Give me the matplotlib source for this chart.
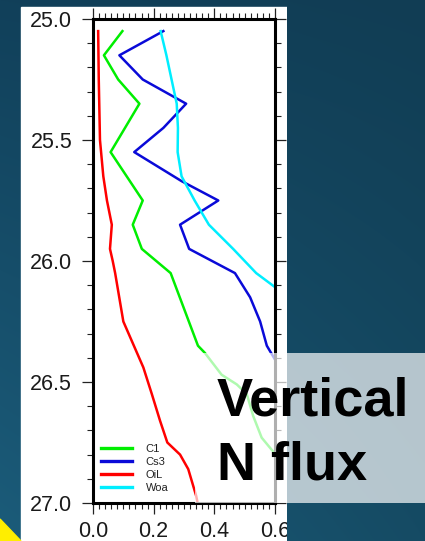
import numpy as np
import matplotlib
matplotlib.use("Agg")
import matplotlib.pyplot as plt
from matplotlib.patches import Rectangle, Polygon
from matplotlib.ticker import MultipleLocator

# density levels / flux values
c1_sig = [25.05, 25.15, 25.25, 25.35, 25.55, 25.65, 25.75, 25.85, 25.95, 26.05,
          26.35, 26.38, 26.47, 26.51, 26.55, 26.64, 26.73, 26.78, 26.85, 26.95]
c1_flux = [0.097, 0.036, 0.083, 0.153, 0.058, 0.111, 0.164, 0.131, 0.161, 0.256,
           0.346, 0.369, 0.424, 0.474, 0.507, 0.528, 0.556, 0.589, 0.64, 0.72]

cs3_sig = [25.05, 25.15, 25.25, 25.35, 25.45, 25.55, 25.67, 25.75, 25.85, 25.95,
           26.05, 26.15, 26.25, 26.35, 26.45, 26.55]
cs3_flux = [0.232, 0.087, 0.164, 0.307, 0.232, 0.136, 0.292, 0.413, 0.287, 0.317,
            0.468, 0.518, 0.551, 0.573, 0.62, 0.66]

oil_sig = [25.05, 25.25, 25.5, 25.65, 25.75, 25.85, 25.95, 26.0, 26.05, 26.25,
           26.44, 26.55, 26.66, 26.75, 26.8, 26.86, 26.97, 27.0]
oil_flux = [0.017, 0.019, 0.023, 0.034, 0.046, 0.062, 0.056, 0.065, 0.073, 0.100,
            0.166, 0.194, 0.221, 0.245, 0.287, 0.314, 0.340, 0.345]

woa_sig = [25.05, 25.15, 25.25, 25.35, 25.45, 25.55, 25.65, 25.75, 25.85, 25.95,
           26.05, 26.15]
woa_flux = [0.223, 0.242, 0.259, 0.276, 0.280, 0.279, 0.292, 0.335, 0.382, 0.462,
            0.538, 0.645]

series = [("C1", c1_flux, c1_sig, "#00ee00"),
          ("Cs3", cs3_flux, cs3_sig, "#0a0ad8"),
          ("OiL", oil_flux, oil_sig, "#ff0000"),
          ("Woa", woa_flux, woa_sig, "#00eeff")]

W, H = 425, 541
plt.rcParams['font.family'] = ['Liberation Sans', 'DejaVu Sans']

fig = plt.figure(figsize=(W / 100, H / 100), dpi=100)

# background gradient
tl = np.array([17, 64, 90]) / 255
tr = np.array([17, 61, 84]) / 255
bl = np.array([27, 92, 122]) / 255
br = np.array([21, 75, 100]) / 255
u = np.linspace(0, 1, W)[None, :, None]
v = np.linspace(0, 1, H)[:, None, None]
grad = (1 - v) * ((1 - u) * tl + u * tr) + v * ((1 - u) * bl + u * br)

bg = fig.add_axes([0, 0, 1, 1], zorder=0)
bg.imshow(grad, extent=(0, W, H, 0), aspect='auto')
bg.add_patch(Rectangle((21, 7), 266, H - 7, color='white'))
bg.add_patch(Polygon([(0, 519), (21, H), (0, H)], color='#ffee00'))
bg.set_xlim(0, W)
bg.set_ylim(H, 0)
bg.axis('off')

# main plot
ax = fig.add_axes([93 / W, (H - 503) / H, 182 / W, 484 / H], zorder=1)
for name, fx, sg, col in series:
    ax.plot(fx, sg, color=col, lw=1.8, label=name)
ax.set_xlim(0, 0.6)
ax.set_ylim(27.0, 25.0)
ax.xaxis.set_major_locator(MultipleLocator(0.2))
ax.xaxis.set_minor_locator(MultipleLocator(0.02))
ax.yaxis.set_major_locator(MultipleLocator(0.5))
ax.yaxis.set_minor_locator(MultipleLocator(0.1))
ax.xaxis.set_major_formatter(lambda x, p: f"{x:.1f}")
ax.yaxis.set_major_formatter(lambda y, p: f"{y:.1f}")
ax.tick_params(which='both', direction='out', top=True, right=True,
               color='#222222', labelcolor='#1a1a1a', labelsize=15.5)
ax.tick_params(which='major', length=8, width=0.9)
ax.tick_params(axis='y', which='major', pad=7)
ax.tick_params(axis='x', which='major', pad=5)
ax.tick_params(which='minor', length=4, width=0.8)
for sp in ax.spines.values():
    sp.set_linewidth(2.2)
leg = ax.legend(loc='lower left', bbox_to_anchor=(0.045, 0.02), frameon=False,
                fontsize=8, handlelength=2.8, handletextpad=1.2,
                labelspacing=0.28, borderpad=0, borderaxespad=0)
for t in leg.get_texts():
    t.set_color('#222222')
for h in leg.get_lines():
    h.set_linewidth(2.4)

# overlay: right background strip, translucent box, label
ov = fig.add_axes([0, 0, 1, 1], zorder=3)
ov.patch.set_visible(False)
im = ov.imshow(grad, extent=(0, W, H, 0), aspect='auto')
clip = Rectangle((287, 0), W - 287, H, transform=ov.transData)
im.set_clip_path(clip)
ov.add_patch(Rectangle((195, 353), W - 195, 150, facecolor='white',
                       edgecolor='none', alpha=0.69))
ov.text(217, 415, "Vertical", fontsize=39, fontweight='bold', color='black',
        va='baseline', ha='left')
ov.text(217, 480, "N flux", fontsize=39, fontweight='bold', color='black',
        va='baseline', ha='left')
ov.set_xlim(0, W)
ov.set_ylim(H, 0)
ov.axis('off')

fig.savefig("out.png", dpi=100)
